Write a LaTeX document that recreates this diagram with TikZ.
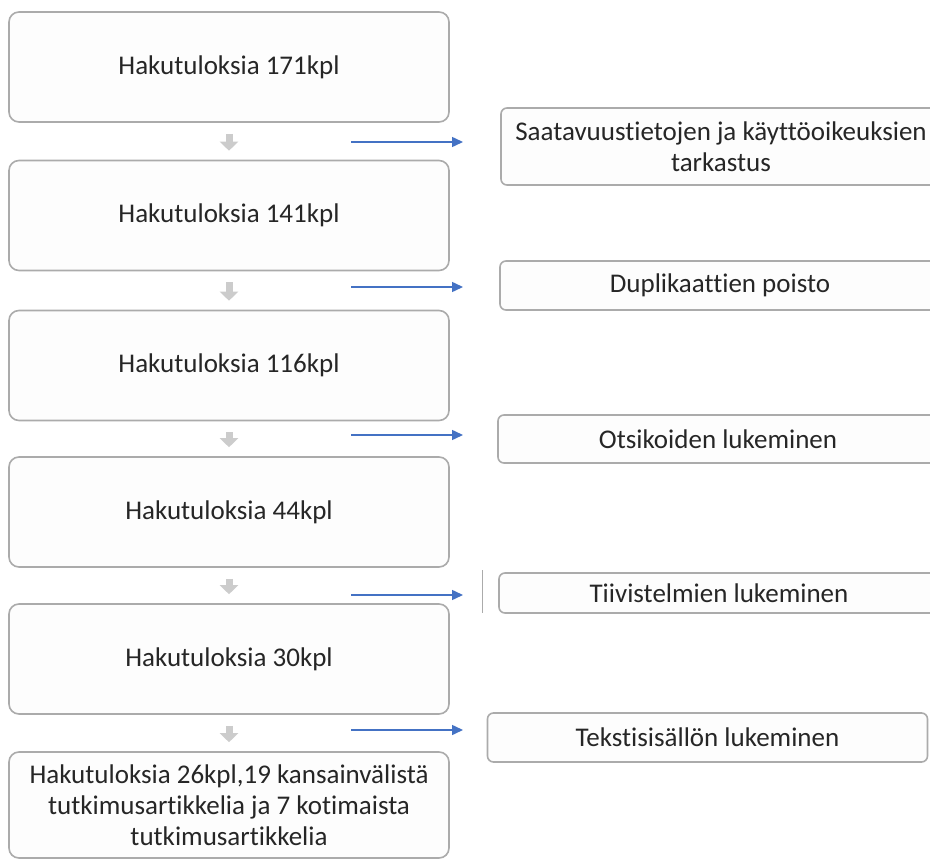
\documentclass[tikz,border=0pt]{standalone}
\usepackage{fontspec}
\setmainfont{Carlito}[Ligatures=NoCommon]
\usetikzlibrary{arrows.meta,positioning}

\definecolor{boxgray}{HTML}{ABABAB}
\definecolor{boxfill}{HTML}{FDFDFD}
\definecolor{textdark}{HTML}{262626}
\definecolor{arrowgray}{HTML}{CCCCCC}
\definecolor{flowblue}{HTML}{4472C4}

\begin{document}
\begin{tikzpicture}[x=1pt,y=-1pt,
    stage/.style={draw=boxgray, line width=1.6pt, rounded corners=10pt, fill=boxfill,
        minimum width=440pt, minimum height=110pt, align=center, text=textdark,
        font=\fontsize{27}{31}\selectfont},
    filterbox/.style={draw=boxgray, line width=1.6pt, rounded corners=6pt, fill=boxfill,
        minimum width=440pt, align=center, text=textdark,
        font=\fontsize{27}{31}\selectfont},
    down/.style={draw=arrowgray, line width=7pt, -{Triangle[width=18pt,length=9pt]},
        shorten <=11pt, shorten >=9pt},
    flow/.style={draw=flowblue, line width=1.5pt, -{Triangle[width=10pt,length=11pt]}}]
    \useasboundingbox (0,0) rectangle (930,859);
    \clip (0,0) rectangle (930,859);
    \fill[white] (0,0) rectangle (930,859);

    % search results, step by step
    \node[stage] (b1) at (229,67) {Hakutuloksia 171kpl};
    \node[stage] (b2) at (229,215.5) {Hakutuloksia 141kpl};
    \node[stage] (b3) at (229,365.5) {Hakutuloksia 116kpl};
    \node[stage] (b4) at (229,512) {Hakutuloksia 44kpl};
    \node[stage] (b5) at (229,659) {Hakutuloksia 30kpl};
    \node[stage, minimum height=106pt] (b6) at (229,805) {Hakutuloksia 26kpl,19 kansainvälistä\\tutkimusartikkelia ja 7 kotimaista\\tutkimusartikkelia};

    \foreach \a/\b in {b1/b2,b2/b3,b3/b4,b4/b5,b5/b6}
        \draw[down] (\a) -- (\b);

    % filtering steps
    \node[filterbox, minimum height=77pt] (r1) at (721,146.5) {Saatavuustietojen ja käyttöoikeuksien\\tarkastus};
    \node[filterbox, minimum height=49pt] (r2) at (720,285.5) {Duplikaattien poisto};
    \node[filterbox, minimum height=48pt] (r3) at (718,439) {Otsikoiden lukeminen};
    \node[filterbox, minimum height=40pt] (r4) at (719,593) {Tiivistelmien lukeminen};
    \node[filterbox, minimum height=49pt] (r5) at (707.5,737.5) {Tekstisisällön lukeminen};

    \foreach \y [count=\i] in {142,287,435,595,730} {
        \coordinate (s\i) at (351,\y);
        \coordinate (e\i) at (463,\y);
        \draw[flow] (s\i) -- (e\i);
    }

    \draw[boxgray, line width=1pt] (482,570) -- (482,613);
\end{tikzpicture}
\end{document}
